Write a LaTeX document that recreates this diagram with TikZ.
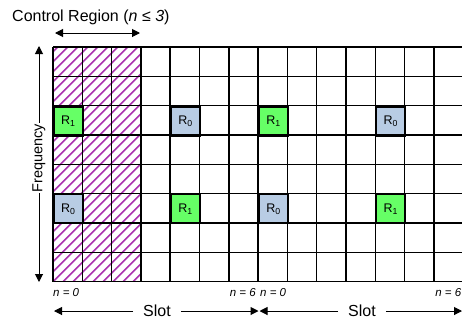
\documentclass[tikz,border=0pt]{standalone}
\usepackage{fontspec}
\setmainfont{Liberation Sans}
\usetikzlibrary{arrows.meta}
\definecolor{hatchc}{RGB}{170,50,175}
\definecolor{rgreen}{RGB}{102,255,102}
\definecolor{rblue}{RGB}{184,204,228}
\tikzset{
  gridline/.style={line width=1.5pt,black},
  rcell/.style={draw=black,line width=1.5pt,minimum width=29.3pt,minimum height=29.3pt,inner sep=0pt,anchor=north west,font=\fontsize{12.5}{14}\selectfont},
  rone/.style={rcell,fill=rgreen},
  rzero/.style={rcell,fill=rblue},
  biglabel/.style={font=\fontsize{16}{18}\selectfont,inner sep=1pt},
  freqlabel/.style={font=\fontsize{14.5}{16}\selectfont,inner sep=1pt},
  nlabel/.style={font=\fontsize{11.5}{13}\selectfont\itshape,inner sep=0pt},
  arr/.style={line width=1pt,-{Triangle[length=8pt,width=8pt]}},
}
\begin{document}
\begin{tikzpicture}[x=1pt,y=-1pt]
\useasboundingbox (0,0) rectangle (462,322);
\def\cw{29.3}
\def\ch{29.33}
% hatching of control region
\begin{scope}
\clip (53,47) rectangle (140.9,281.7);
\foreach \k in {-26,...,10}{
  \draw[hatchc,line width=1.5pt] (53+\k*10,281.7) -- ++(240,-240);
}
\end{scope}
% R cells
\node[rone]  (a1) at (53,106)              {R\textsubscript{1}};
\node[rzero] (a2) at ({53+4*\cw},106)      {R\textsubscript{0}};
\node[rone]  (a3) at ({53+7*\cw},106)      {R\textsubscript{1}};
\node[rzero] (a4) at ({53+11*\cw},106)     {R\textsubscript{0}};
\node[rzero] (b1) at (53,{47+5*\ch})       {R\textsubscript{0}};
\node[rone]  (b2) at ({53+4*\cw},{47+5*\ch}) {R\textsubscript{1}};
\node[rzero] (b3) at ({53+7*\cw},{47+5*\ch}) {R\textsubscript{0}};
\node[rone]  (b4) at ({53+11*\cw},{47+5*\ch}) {R\textsubscript{1}};
% grid
\foreach \i in {0,...,14}{
  \draw[gridline] ({53+\i*\cw},47) -- ({53+\i*\cw},281.7);
}
\foreach \j in {0,...,8}{
  \draw[gridline] (53,{47+\j*\ch}) -- (464,{47+\j*\ch});
}
% control region label
\node[biglabel,anchor=west] (ctl) at (11,17) {Control Region (\textit{n} ≤ \textit{3})};
\coordinate (cl) at (55,33);
\coordinate (cr) at (140,33);
\draw[line width=1pt,{Triangle[length=8pt,width=8pt]}-{Triangle[length=8pt,width=8pt]}] (cl) -- (cr);
% frequency
\node[freqlabel,rotate=90] (freq) at (39,158) {Frequency};
\coordinate (ftop) at (39,46);
\coordinate (fbot) at (39,282);
\draw[arr] (freq.east) -- (ftop);
\draw[arr] (freq.west) -- (fbot);
% n labels
\node[nlabel,anchor=west] (n0a) at (53,293) {n = 0};
\node[nlabel,anchor=east] (n6a) at (256,293) {n = 6};
\node[nlabel,anchor=west] (n0b) at (260,293) {n = 0};
\node[nlabel,anchor=east] (n6b) at (461.5,293) {n = 6};
% slot arrows
\node[biglabel] (s1) at (157,311) {Slot};
\node[biglabel] (s2) at (362,311) {Slot};
\coordinate (s1l) at (54,311);
\coordinate (s1r) at (258.5,311);
\coordinate (s2l) at (259.5,311);
\coordinate (s2r) at (462,311);
\draw[arr] ([xshift=-9pt]s1.west) -- (s1l);
\draw[arr] ([xshift=9pt]s1.east) -- (s1r);
\draw[arr] ([xshift=-9pt]s2.west) -- (s2l);
\draw[arr] ([xshift=9pt]s2.east) -- (s2r);
\end{tikzpicture}
\end{document}
